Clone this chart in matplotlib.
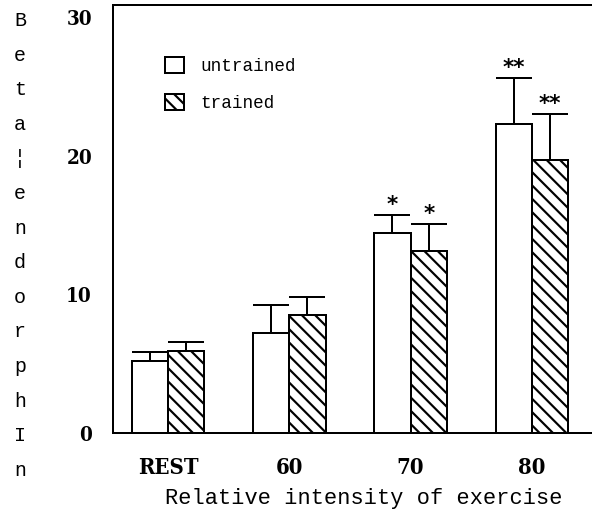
import matplotlib
matplotlib.use("Agg")
import matplotlib.pyplot as plt
import numpy as np

groups = ["REST", "60", "70", "80"]
untrained = [5.2, 7.2, 14.4, 22.3]
untrained_sd = [0.65, 2.0, 1.3, 3.3]
trained = [5.9, 8.5, 13.1, 19.7]
trained_sd = [0.65, 1.3, 1.95, 3.3]
untrained_sig = ["", "", "*", "**"]
trained_sig = ["", "", "*", "**"]
ylabel_letters = "Beta\u00a6endorphIn"

DPI = 120
plt.rcParams["hatch.linewidth"] = 1.3
mono = ["Liberation Mono", "DejaVu Sans Mono"]
tickfont = dict(family="DejaVu Serif", fontstretch="condensed",
                fontweight="bold")

fig = plt.figure(figsize=(592 / DPI, 517 / DPI), dpi=DPI)
ax = fig.add_axes([113 / 592, 84 / 517, 479 / 592, 428 / 517])

x = np.arange(len(groups))
w = 0.3
err_kw = dict(capsize=10.8, capthick=1.2, elinewidth=1.2, ecolor="black")

b1 = ax.bar(x - w / 2, untrained, w, color="white", edgecolor="black",
            linewidth=1.2, label="untrained")
b2 = ax.bar(x + w / 2, trained, w, color="white", edgecolor="black",
            linewidth=1.2, hatch="\\\\\\", label="trained")
# one-sided error bars (upper only)
ax.errorbar(x - w / 2, untrained, yerr=[np.zeros(4), untrained_sd],
            fmt="none", **err_kw)
ax.errorbar(x + w / 2, trained, yerr=[np.zeros(4), trained_sd],
            fmt="none", **err_kw)

for xs, means, sds, sig in [(x - w / 2, untrained, untrained_sd, untrained_sig),
                            (x + w / 2, trained, trained_sd, trained_sig)]:
    for xi, m, s, t in zip(xs, means, sds, sig):
        if t:
            ax.annotate(t, (xi, m + s), xytext=(0, 2.6),
                        textcoords="offset points", ha="center",
                        va="baseline", family="DejaVu Sans",
                        fontweight="bold", fontsize=13)

ax.set_xlim(-0.453, 3.495)
ax.set_ylim(0, 30.87)
ax.set_xticks(x)
ax.set_xticklabels(groups, fontsize=13.2, **tickfont)
ax.set_yticks([0, 10, 20, 30])
ax.set_yticklabels(["0", "10", "20", "30"], fontsize=12.3, **tickfont)
ax.tick_params(axis="both", length=0)
ax.tick_params(axis="y", pad=12.6)
ax.tick_params(axis="x", pad=14.4)

for side in ["left", "bottom", "top"]:
    ax.spines[side].set_linewidth(1.2)
ax.spines["right"].set_visible(False)

ax.set_xlabel("Relative intensity of exercise", family=mono, fontsize=13.2)
ax.xaxis.set_label_coords(0.524, -0.128)

ax.legend(handles=[b1, b2], loc="upper left",
          bbox_to_anchor=((165 - 113) / 479, (433 - 57) / 428),
          frameon=False, prop={"family": mono, "size": 10.6},
          handlelength=1.05, handleheight=1.05, labelspacing=1.04,
          handletextpad=0.96, borderpad=0, borderaxespad=0)

# stacked vertical y-axis title
for i, ch in enumerate(ylabel_letters):
    fig.text(20 / 592, 1 - (26 + i * 34.6) / 517, ch, ha="center",
             va="baseline", family=mono, fontsize=12)

fig.savefig("out.png", dpi=DPI)
